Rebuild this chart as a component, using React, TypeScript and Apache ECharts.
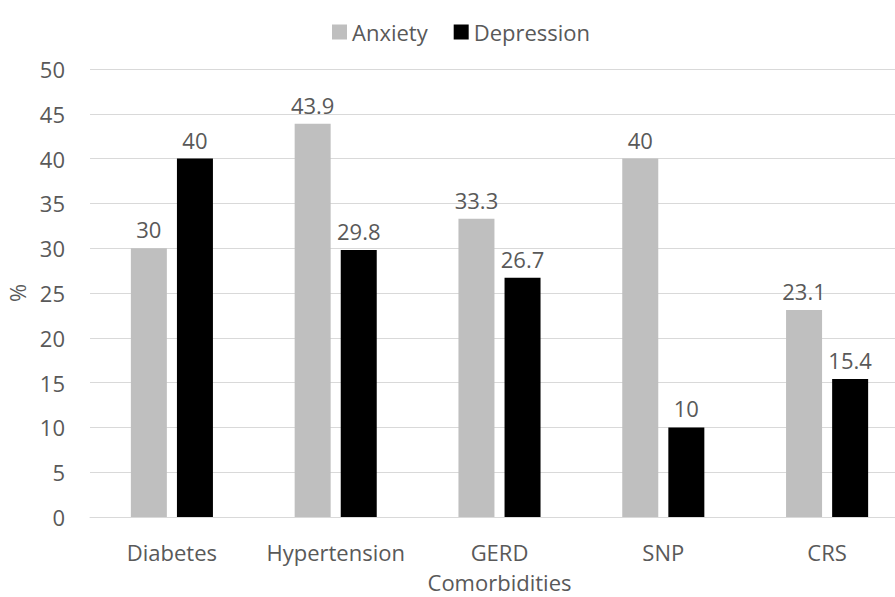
import React, { useEffect, useRef } from "react";
import * as echarts from "echarts";

const categories = ["Diabetes", "Hypertension", "GERD", "SNP", "CRS"];
const anxiety = [30, 43.9, 33.3, 40, 23.1];
const depression = [40, 29.8, 26.7, 10, 15.4];
const seriesNames = ["Anxiety", "Depression"];

const FONT = "'Open Sans', sans-serif";
const TXT = "#595959";

export default function App() {
  const ref = useRef<HTMLDivElement>(null);
  useEffect(() => {
    if (!ref.current) return;
    const chart = echarts.init(ref.current, null, { renderer: "svg" });
    const label = {
      show: true,
      position: "top",
      distance: 8,
      fontFamily: FONT,
      fontSize: 22,
      lineHeight: 22,
      color: TXT,
    };
    chart.setOption({
      animation: false,
      backgroundColor: "#ffffff",
      textStyle: { fontFamily: FONT },
      legend: {
        data: seriesNames,
        left: 327,
        top: 16,
        itemWidth: 15,
        itemHeight: 15,
        itemGap: 26,
        icon: "rect",
        textStyle: { fontFamily: FONT, fontSize: 22, lineHeight: 22, color: TXT },
      },
      grid: {
        left: 90,
        top: 69,
        width: 819,
        height: 448,
        containLabel: false,
        outerBoundsMode: "none",
      },
      xAxis: {
        type: "category",
        data: categories,
        name: "Comorbidities",
        nameLocation: "middle",
        nameGap: 54,
        nameTextStyle: { fontFamily: FONT, fontSize: 22, lineHeight: 22, color: TXT },
        axisTick: { show: false },
        axisLine: { show: true, lineStyle: { color: "#D9D9D9", width: 1 } },
        axisLabel: { fontFamily: FONT, fontSize: 22, lineHeight: 22, color: TXT, margin: 24, interval: 0 },
      },
      yAxis: {
        type: "value",
        min: 0,
        max: 50,
        interval: 5,
        name: "%",
        nameLocation: "middle",
        nameGap: 62,
        nameRotate: 90,
        nameTextStyle: { fontFamily: FONT, fontSize: 22, lineHeight: 22, color: TXT },
        axisLine: { show: false },
        axisTick: { show: false },
        axisLabel: { fontFamily: FONT, fontSize: 22, color: TXT, margin: 25 },
        splitLine: { lineStyle: { color: "#D9D9D9", width: 1 } },
      },
      series: [
        {
          name: seriesNames[0],
          type: "bar",
          data: anxiety,
          barWidth: 36,
          barGap: "28%",
          itemStyle: { color: "#BFBFBF" },
          label,
        },
        {
          name: seriesNames[1],
          type: "bar",
          data: depression,
          barWidth: 36,
          barGap: "28%",
          itemStyle: { color: "#000000" },
          label,
        },
      ],
    });
    return () => chart.dispose();
  }, []);
  return (
    <div
      ref={ref}
      style={{ position: "fixed", left: 0, top: 0, width: 895, height: 597, background: "#fff" }}
    />
  );
}
